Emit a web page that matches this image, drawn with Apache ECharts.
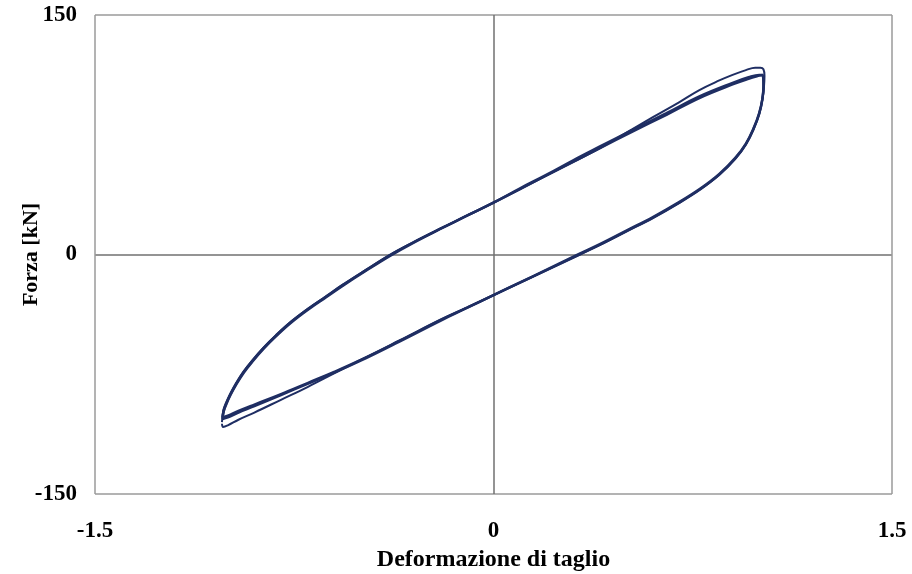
<!DOCTYPE html>
<html>
<head>
<meta charset="utf-8">
<script src="https://cdn.jsdelivr.net/npm/echarts@6/dist/echarts.min.js"></script>
<style>
html,body{margin:0;padding:0;background:#fff;}
#chart{width:912px;height:574px;}
</style>
</head>
<body>
<div id="chart"></div>
<script>
// Axis settings (tick labels)
const xTicks = [-1.5, 0, 1.5];
const yTicks = [-150, 0, 150];
const xTitle = 'Deformazione di taglio';
const yTitle = 'Forza [kN]';

// Cycle 1 (first, slightly larger loop)
const cycle1X = [-1.022,-1.017,-1.007,-0.992,-0.969,-0.942,-0.909,-0.867,-0.819,-0.762,-0.695,-0.632,-0.570,-0.482,-0.393,-0.300,-0.200,-0.100,0.000,0.100,0.200,0.300,0.399,0.523,0.600,0.700,0.775,0.850,0.900,0.950,0.985,1.005,1.016,1.020,1.018,1.012,1.000,0.980,0.950,0.910,0.850,0.780,0.700,0.600,0.500,0.400,0.324,0.200,0.100,0.000,-0.100,-0.200,-0.354,-0.500,-0.600,-0.700,-0.800,-0.900,-0.960,-1.000,-1.018,-1.022];
const cycle1Y = [-105,-97.5,-93,-87.5,-80.5,-73.5,-66.5,-58.5,-50.5,-42,-33.5,-26.3,-19.2,-9.8,-0.5,7.8,16.2,24.3,32.5,41,49.5,58,66.5,78.5,86,95.5,103,109,112.5,115.5,117,117,116,112,105,97,88,79,69,60,50,41,32.5,23,14.5,6,0,-9.8,-17.6,-25.4,-33.3,-41,-54,-66,-74.5,-83,-91,-99,-103.5,-107,-108,-106];
// Cycle 2
const cycle2X = [-1.020,-1.015,-1.005,-0.990,-0.967,-0.940,-0.907,-0.865,-0.817,-0.760,-0.693,-0.630,-0.568,-0.480,-0.391,-0.300,-0.200,-0.100,0.000,0.100,0.200,0.300,0.399,0.523,0.651,0.775,0.900,0.960,1.000,1.012,1.016,1.012,1.000,0.980,0.950,0.910,0.850,0.780,0.700,0.600,0.500,0.400,0.324,0.200,0.100,0.000,-0.100,-0.200,-0.354,-0.500,-0.600,-0.700,-0.800,-0.900,-0.960,-1.000,-1.020];
const cycle2Y = [-102,-97.5,-93,-87.5,-80.5,-73.5,-66.5,-58.5,-50.5,-42,-33.5,-26.3,-19.2,-9.8,-0.5,7.8,16.2,24.3,32.5,41,49.5,58,66.5,77,87.5,98,106.5,110,112,112.5,105,97,88,79,69,60,50,41,32.5,23,14.5,6,0,-9.8,-17.6,-25.4,-33.3,-41,-54,-66,-73.5,-80.5,-87.5,-94,-98,-101,-102];
// Cycle 3
const cycle3X = [-1.020,-1.015,-1.005,-0.990,-0.967,-0.940,-0.907,-0.865,-0.817,-0.760,-0.693,-0.630,-0.568,-0.480,-0.391,-0.300,-0.200,-0.100,0.000,0.100,0.200,0.300,0.399,0.523,0.651,0.775,0.900,0.960,1.000,1.013,1.017,1.012,1.000,0.980,0.950,0.910,0.850,0.780,0.700,0.600,0.500,0.400,0.324,0.200,0.100,0.000,-0.100,-0.200,-0.354,-0.500,-0.600,-0.700,-0.800,-0.900,-0.960,-1.000,-1.020];
const cycle3Y = [-103,-98,-93.5,-88,-81,-74,-67,-59,-51,-42.5,-34,-26.8,-19.7,-10.2,-1,7.5,16,24.3,32.5,41.5,50,59,67.5,78,88.5,99,107.5,111,112.5,112.5,106,97.5,88.5,79.5,69.5,60.5,50.5,41.5,33,23.5,15,6.5,0.5,-9.5,-17.5,-25.4,-33.5,-41.5,-54.5,-66.5,-74,-81,-88,-95,-99,-102,-103];

function pairs(xs, ys){ return xs.map((x,i)=>[x, ys[i]]); }

const lineColor = '#1f2e63';
const labelFont = {fontFamily:'Liberation Serif', fontWeight:'bold', fontSize:23, color:'#000'};
const xTitleFont = {fontFamily:'Liberation Serif', fontWeight:'bold', fontSize:24, color:'#000'};
const yTitleFont = {fontFamily:'Liberation Serif', fontWeight:'bold', fontSize:22, color:'#000'};

const chart = echarts.init(document.getElementById('chart'), null, {renderer:'canvas'});
chart.setOption({
  animation:false,
  backgroundColor:'#fff',
  grid:{left:95, right:20, top:15, bottom:80, containLabel:false, outerBoundsMode:'none'},
  xAxis:{
    type:'value', min:xTicks[0], max:xTicks[xTicks.length-1], interval:xTicks[1]-xTicks[0],
    axisLine:{show:false}, axisTick:{show:false},
    axisLabel:Object.assign({margin:26}, labelFont),
    splitLine:{show:true, lineStyle:{color:['#9a9a9a','#707070','#9a9a9a'], width:1.5}},
    name:xTitle, nameLocation:'middle', nameGap:54, nameMoveOverlap:false,
    nameTextStyle:xTitleFont
  },
  yAxis:{
    type:'value', min:yTicks[0], max:yTicks[yTicks.length-1], interval:yTicks[1]-yTicks[0],
    axisLine:{show:false}, axisTick:{show:false},
    axisLabel:Object.assign({margin:18}, labelFont),
    splitLine:{show:true, lineStyle:{color:['#9a9a9a','#707070','#9a9a9a'], width:1.5}},
    name:yTitle, nameLocation:'middle', nameGap:53, nameMoveOverlap:false,
    nameTextStyle:yTitleFont
  },
  series:[
    {type:'line', data:pairs(cycle1X, cycle1Y), showSymbol:false, smooth:0.4, lineStyle:{color:lineColor, width:2}},
    {type:'line', data:pairs(cycle2X, cycle2Y), showSymbol:false, smooth:0.4, lineStyle:{color:lineColor, width:2.5}},
    {type:'line', data:pairs(cycle3X, cycle3Y), showSymbol:false, smooth:0.4, lineStyle:{color:lineColor, width:2.5}}
  ]
});
</script>
</body>
</html>
